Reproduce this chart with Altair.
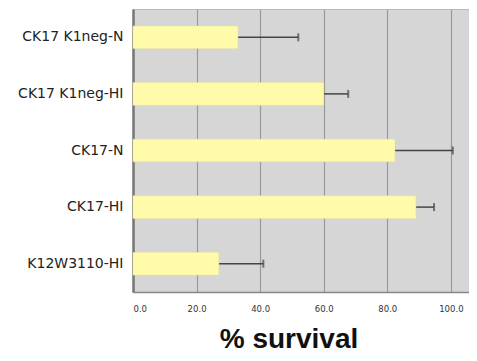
import altair as alt
import pandas as pd

categories = ["CK17 K1neg-N", "CK17 K1neg-HI", "CK17-N", "CK17-HI", "K12W3110-HI"]
survival = [33.0, 60.0, 82.4, 89.0, 27.0]
error = [19.0, 7.7, 18.2, 5.7, 14.0]
x_ticks = [0, 20, 40, 60, 80, 100]

df = pd.DataFrame({"cat": categories, "val": survival, "err": error})
df["hi"] = df["val"] + df["err"]

xscale = alt.Scale(domain=[0, 105.7], nice=False, zero=True)
yscale = alt.Scale(domain=categories, paddingInner=0.6, paddingOuter=0.3)

base = alt.Chart(df)

bars = base.mark_bar(color="#FFFBAA", stroke="#E8E49A", strokeWidth=0.5).encode(
    x=alt.X("val:Q", scale=xscale,
            axis=alt.Axis(values=x_ticks, format=".1f", title="% survival",
                          labelFontSize=8.5, labelColor="#333", labelFont="DejaVu Sans",
                          ticks=False, labelBaseline="top",
                          labelPadding=12, domainColor="#888", domainWidth=1.5,
                          gridColor="#999", gridWidth=1.2,
                          titleFontSize=28, titleFontWeight="bold",
                          titleFont="Liberation Sans", titleColor="#111",
                          titleX=155.5, titleY=55, titleBaseline="alphabetic",
                          titleAnchor="middle", titleAlign="center")),
    y=alt.Y("cat:N", scale=yscale, sort=categories,
            axis=alt.Axis(title=None, labelFontSize=14, labelColor="#222",
                          labelFont="DejaVu Sans", ticks=False,
                          labelPadding=10, domainColor="#777", domainWidth=2.5,
                          grid=False)),
)

rules = base.mark_rule(color="#444", strokeWidth=1.5).encode(
    x=alt.X("val:Q", scale=xscale), x2="hi:Q",
    y=alt.Y("cat:N", scale=yscale, sort=categories),
)

caps = base.mark_tick(color="#444", thickness=2, size=8, orient="vertical").encode(
    x=alt.X("hi:Q", scale=xscale),
    y=alt.Y("cat:N", scale=yscale, sort=categories),
)

chart = (rules + bars + caps).properties(
    width=336, height=283,
    autosize=alt.AutoSizeParams(type="none"),
    padding={"left": 125, "top": 1, "right": 0, "bottom": 61},
    background="white",
).configure_view(fill="#D6D6D6", stroke="#BBBBBB", strokeWidth=1)

chart.save("out.html", embed_options={"renderer": "svg", "actions": False})
